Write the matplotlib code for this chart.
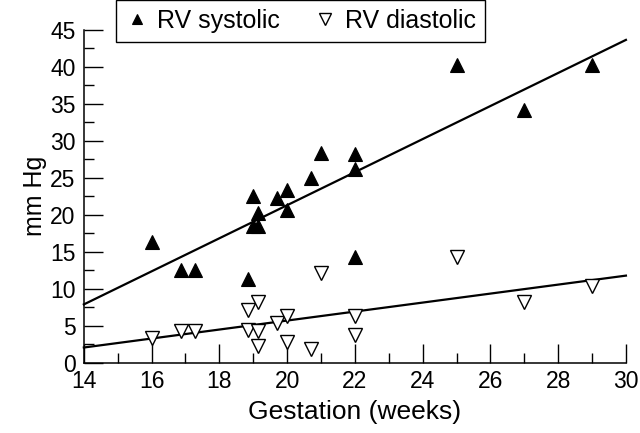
import numpy as np
import matplotlib
matplotlib.use('Agg')
import matplotlib.pyplot as plt
from matplotlib.ticker import MultipleLocator

plt.rcParams['font.family'] = ['Liberation Sans', 'DejaVu Sans']

# RV systolic pressure (mm Hg) vs gestation (weeks)
sys_weeks = [16.0, 16.86, 17.29, 18.86, 19.0, 19.14, 19.0, 19.14, 19.71, 20.0,
             20.0, 20.71, 21.0, 22.0, 22.0, 22.0, 25.0, 27.0, 29.0]
sys_mmhg = [16.3, 12.5, 12.5, 11.3, 22.5, 20.3, 18.5, 18.5, 22.3, 23.4,
            20.7, 25.0, 28.3, 14.3, 28.2, 26.2, 40.2, 34.2, 40.2]

# RV diastolic pressure (mm Hg) vs gestation (weeks)
dia_weeks = [16.0, 16.86, 17.29, 18.86, 19.14, 18.86, 19.14, 19.14, 19.71, 20.0,
             20.0, 20.71, 21.0, 22.0, 22.0, 25.0, 27.0, 29.0]
dia_mmhg = [3.4, 4.3, 4.3, 7.2, 8.2, 4.4, 4.3, 2.3, 5.4, 6.3,
            2.8, 1.9, 12.2, 6.3, 3.8, 14.3, 8.2, 10.4]

fig = plt.figure(figsize=(6.4, 4.33), dpi=100)
ax = fig.add_axes([0.131, 0.162, 0.847, 0.769])

ax.plot(sys_weeks, sys_mmhg, '^', color='black', ms=9.5, mew=0.8,
        label='RV systolic', clip_on=False)
ax.plot(dia_weeks, dia_mmhg, 'v', mfc='white', mec='black', ms=10, mew=1.0,
        label='RV diastolic', clip_on=False)

# linear regression lines
xfit = np.array([14, 30])
for xs, ys in [(sys_weeks, sys_mmhg), (dia_weeks, dia_mmhg)]:
    m, c = np.polyfit(xs, ys, 1)
    ax.plot(xfit, m * xfit + c, color='black', lw=1.6, zorder=1, clip_on=False)

ax.set_xlim(14, 30)
ax.set_ylim(0, 45)
ax.xaxis.set_major_locator(MultipleLocator(2))
ax.xaxis.set_minor_locator(MultipleLocator(1))
ax.yaxis.set_major_locator(MultipleLocator(5))
ax.yaxis.set_minor_locator(MultipleLocator(2.5))
ax.tick_params(which='major', direction='in', length=13.5, width=1.0,
               labelsize=16.5)
ax.tick_params(axis='y', which='major', pad=6)
ax.tick_params(axis='x', which='major', pad=5)
ax.tick_params(which='minor', direction='in', length=7, width=1.0)

for s in ['top', 'right']:
    ax.spines[s].set_visible(False)
for s in ['left', 'bottom']:
    ax.spines[s].set_linewidth(1.1)

ax.set_xlabel('Gestation (weeks)', fontsize=19, labelpad=5)
ax.set_ylabel('mm Hg', fontsize=18, labelpad=2)

leg = fig.legend(loc='upper left', bbox_to_anchor=(0.181, 1.0), ncol=2,
                 fontsize=18, fancybox=False, edgecolor='black', framealpha=1,
                 handletextpad=0.3, columnspacing=1.3, handlelength=1.0,
                 borderpad=0.35, borderaxespad=0, markerscale=0.8)
leg.get_frame().set_linewidth(1.0)

fig.savefig('out.png', dpi=100)
